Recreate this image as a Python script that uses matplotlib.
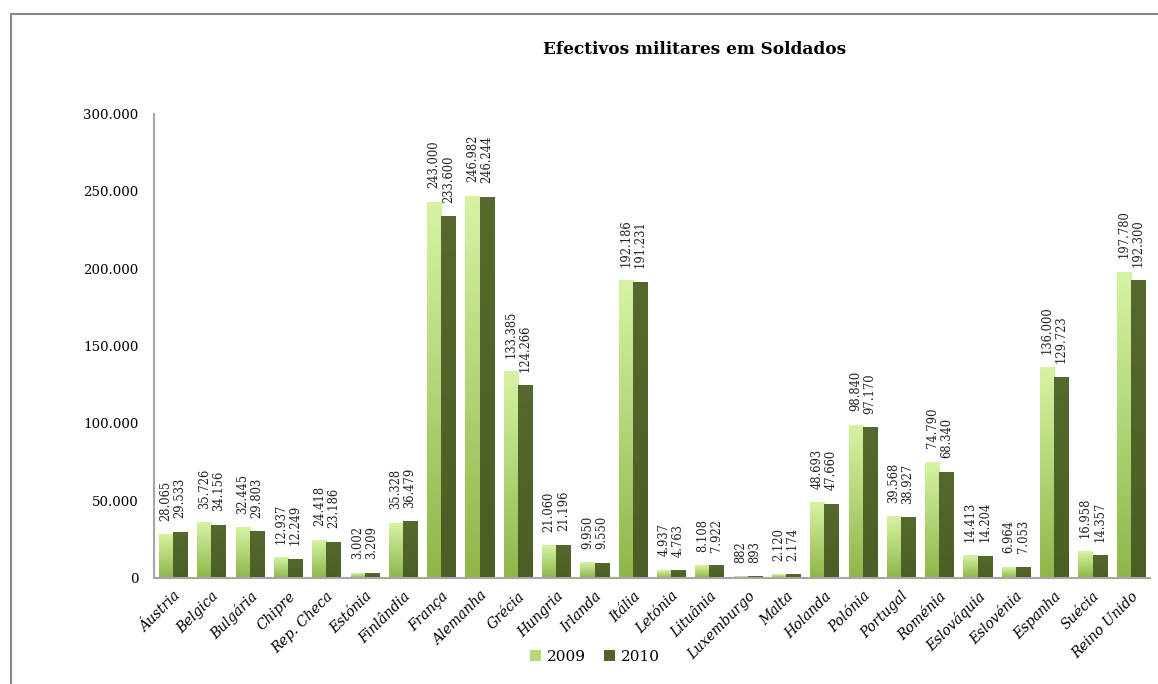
import numpy as np
import matplotlib
matplotlib.use("Agg")
import matplotlib.pyplot as plt
from matplotlib.colors import LinearSegmentedColormap
from matplotlib.lines import Line2D
from matplotlib.patches import Patch

paises = ["Áustria", "Belgica", "Bulgária", "Chipre", "Rep. Checa", "Estónia",
          "Finlândia", "França", "Alemanha", "Grécia", "Hungria", "Irlanda",
          "Itália", "Letónia", "Lituânia", "Luxemburgo", "Malta", "Holanda",
          "Polónia", "Portugal", "Roménia", "Eslováquia", "Eslovénia",
          "Espanha", "Suécia", "Reino Unido"]
anos = ["2009", "2010"]
soldados_2009 = [28065, 35726, 32445, 12937, 24418, 3002, 35328, 243000, 246982,
                 133385, 21060, 9950, 192186, 4937, 8108, 882, 2120, 48693,
                 98840, 39568, 74790, 14413, 6964, 136000, 16958, 197780]
soldados_2010 = [29533, 34156, 29803, 12249, 23186, 3209, 36479, 233600, 246244,
                 124266, 21196, 9550, 191231, 4763, 7922, 893, 2174, 47660,
                 97170, 38927, 68340, 14204, 7053, 129723, 14357, 192300]
y_ticks = [0, 50000, 100000, 150000, 200000, 250000, 300000]


def pt(v):
    # separador de milhares com ponto
    return f"{v:,}".replace(",", ".")


plt.rcParams['font.family'] = ['DejaVu Serif']

fig = plt.figure(figsize=(11.58, 6.84), dpi=100)
ax = fig.add_axes([154 / 1158, 1 - 578 / 684, 996 / 1158, 464 / 684])

x = np.arange(len(paises))
w = 0.37
b1 = ax.bar(x - w / 2, soldados_2009, w, color="#b5d97a", zorder=2)
b2 = ax.bar(x + w / 2, soldados_2010, w, color="#4f6228", zorder=2)

# gradiente vertical nas barras
grad_09 = LinearSegmentedColormap.from_list("g09", ["#8fb64a", "#d6f3a3"])
grad_10 = LinearSegmentedColormap.from_list("g10", ["#4b5e25", "#55692c"])
g = np.linspace(0, 1, 100).reshape(-1, 1)
for bars, cmap in ((b1, grad_09), (b2, grad_10)):
    for r in bars:
        x0, h, bw = r.get_x(), r.get_height(), r.get_width()
        ax.imshow(g, cmap=cmap, aspect="auto", origin="lower",
                  extent=[x0, x0 + bw, 0, h], zorder=3)

# rótulos de dados
for bars, vals in ((b1, soldados_2009), (b2, soldados_2010)):
    for r, v in zip(bars, vals):
        ax.annotate(pt(v), (r.get_x() + r.get_width() / 2, v),
                    xytext=(0, 10), textcoords="offset points",
                    rotation=90, ha="center", va="bottom", fontsize=8.3,
                    color="#222222")

ax.set_xlim(-0.5, len(paises) - 0.5)
ax.set_ylim(0, 300000)
ax.set_yticks(y_ticks)
ax.set_yticklabels([pt(v) for v in y_ticks], fontsize=9.6)
ax.set_xticks(x)
ax.set_xticklabels(paises, rotation=45, ha="right", rotation_mode="anchor",
                   fontsize=10, style="italic")
ax.tick_params(axis="y", length=0, pad=11)
ax.tick_params(axis="x", length=0, pad=8)
for s in ("top", "right"):
    ax.spines[s].set_visible(False)
for s in ("left", "bottom"):
    ax.spines[s].set_color("#a6a6a6")
    ax.spines[s].set_linewidth(1.5)
ax.spines["bottom"].set_zorder(5)

fig.text(695 / 1158, 1 - 50 / 684, "Efectivos militares em Soldados",
         ha="center", va="center", fontsize=12.2, fontweight="bold")

handles = [Patch(facecolor="#b5d97a"), Patch(facecolor="#4f6228")]
fig.legend(handles, anos, loc="center", bbox_to_anchor=(595 / 1158, 1 - 657 / 684),
           ncol=2, frameon=False, fontsize=11, handlelength=0.7,
           handleheight=0.7, handletextpad=0.4, columnspacing=1.2)

# moldura do gráfico
fig.add_artist(Line2D([11 / 1158, 11 / 1158], [0, 1 - 14 / 684],
                      transform=fig.transFigure, color="#888888", lw=1.5))
fig.add_artist(Line2D([11 / 1158, 1], [1 - 14 / 684, 1 - 14 / 684],
                      transform=fig.transFigure, color="#888888", lw=1.5))

fig.savefig("out.png", dpi=100)
